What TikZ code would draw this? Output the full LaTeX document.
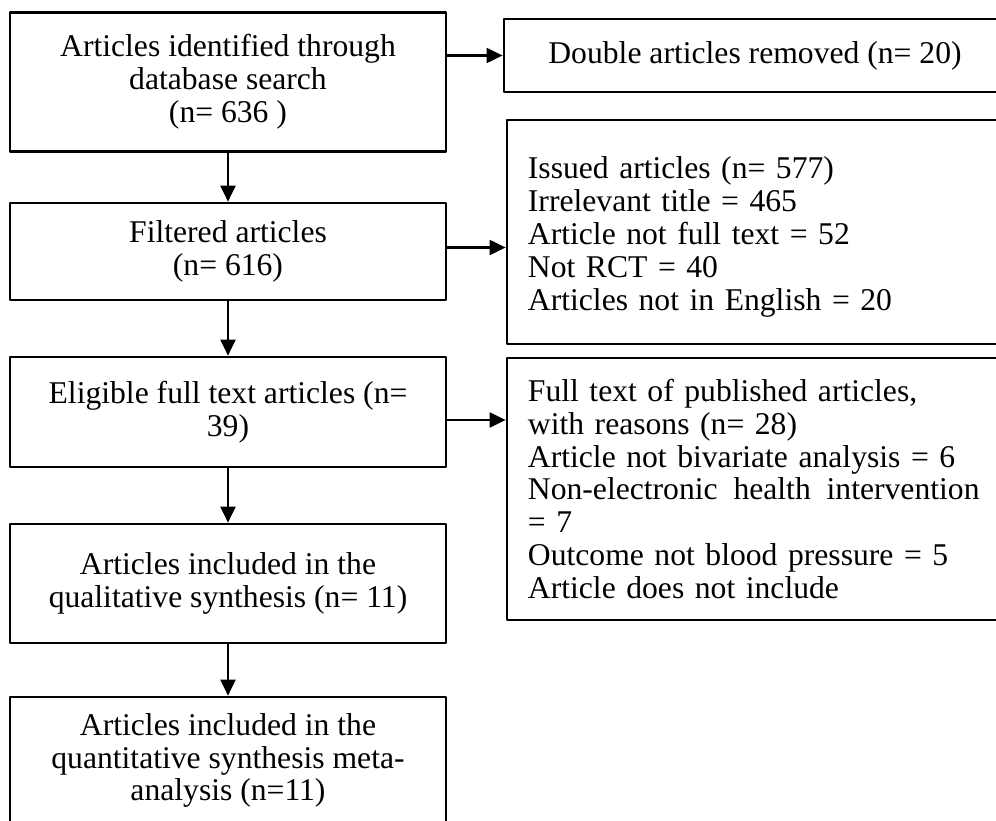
\documentclass[tikz,border=0pt]{standalone}
\usepackage{fontspec}
\setmainfont{Liberation Serif}
\usetikzlibrary{arrows.meta}

\tikzset{
	box/.style={draw, line width=1.8pt, inner sep=0pt},
	stage/.style={box, minimum width=10.9cm, align=center, execute at begin node={\rule{0pt}{1.3em}}},
	side/.style={box, minimum width=12.55cm, align=center},
	note/.style={box, align=left, text width=12cm, inner xsep=0.525cm}
}

\begin{document}
\begin{tikzpicture}[x=0.025cm, y=-0.025cm, line join=round, >={Triangle[length=0.4cm, width=0.37cm]},
	font=\fontsize{22.5}{23.4}\selectfont]
	\useasboundingbox (0,0) rectangle (996,821);
	\clip (0,0) rectangle (996,821);
	% left column
	\node[stage, minimum height=3.475cm] (ident) at (228,82) {Articles identified through\\database search\\(n= 636 )};
	\node[stage, minimum height=2.425cm] (filt) at (228,251.5) {Filtered articles\\(n= 616)};
	\node[stage, minimum height=2.75cm] (elig) at (228,412) {Eligible full text articles (n=\\39)};
	\node[stage, minimum height=2.975cm] (qual) at (228,583.5) {Articles included in the\\qualitative synthesis (n= 11)};
	\node[stage, minimum height=3.175cm] (quant) at (228,760.5) {Articles included in the\\quantitative synthesis meta-\\analysis (n=11)};
	% right column
	\node[side, minimum height=1.825cm] (dbl) at (755,55.5) {Double articles removed (n= 20)};
	\node[note, minimum height=5.6cm, execute at begin node={\rule{0pt}{1em}}] (issued) at (768,232) {Issued articles (n= 577)\\Irrelevant title = 465\\Article not full text = 52\\Not RCT = 40\\Articles not in English = 20};
	\node[note, minimum height=6.55cm] (excl) at (768,489) {Full text of published articles,\\with reasons (n= 28)\\Article not bivariate analysis = 6\\Non-electronic\hspace{0.5em}health\hspace{0.5em}intervention\\= 7\\Outcome not blood pressure = 5\\Article does not include};
	% arrows
	\draw[->, line width=1.8pt] (ident) -- (filt);
	\draw[->, line width=1.8pt] (filt) -- (elig);
	\draw[->, line width=1.8pt] (elig) -- (qual);
	\draw[->, line width=1.8pt] (qual) -- (quant);
	\draw[->, line width=1.8pt] (ident.east |- dbl.west) -- (dbl.west);
	\draw[->, line width=1.8pt] ([yshift=0.1cm]filt.east) -- ([yshift=0.1cm]filt.east -| issued.west);
	\draw[->, line width=1.8pt] ([yshift=-0.2cm]elig.east) -- ([yshift=-0.2cm]elig.east -| excl.west);
\end{tikzpicture}
\end{document}
